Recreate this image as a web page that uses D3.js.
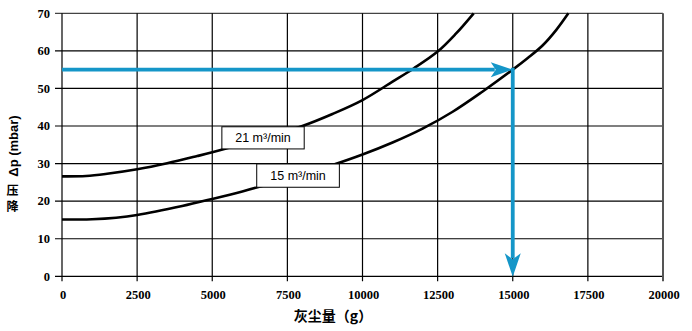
<!DOCTYPE html>
<html><head><meta charset="utf-8">
<script src="https://cdn.jsdelivr.net/npm/d3@7"></script>
<style>body{margin:0;background:#fff}svg{display:block}</style>
</head><body><svg id="c" width="692" height="331"></svg>
<script>
const xTicks = [0, 2500, 5000, 7500, 10000, 12500, 15000, 17500, 20000];
const yTicks = [0, 10, 20, 30, 40, 50, 60, 70];
const dust21 = [0, 800, 1500, 2500, 3500, 4500, 5000, 6000, 7000, 8000, 9000, 10000, 11000, 11700, 12500, 13100, 13700];
const dp21   = [26.6, 26.7, 27.3, 28.5, 30.1, 32.0, 33.0, 35.2, 37.5, 40.0, 43.2, 46.9, 51.8, 55.3, 59.8, 64.5, 70.0];
const dust15 = [0, 1000, 1800, 2500, 4000, 5000, 6000, 7000, 8000, 9000, 10000, 11000, 12000, 13000, 14000, 15000, 15500, 16000, 16450, 16850];
const dp15   = [15.1, 15.2, 15.6, 16.3, 18.7, 20.6, 22.6, 24.8, 27.1, 29.6, 32.4, 35.6, 39.3, 43.8, 49.2, 55.0, 58.1, 61.5, 65.6, 70.0];
const seriesLabels = ["21 m³/min", "15 m³/min"];
const readDust = 15000, readDp = 55;

const svg = d3.select("#c");
const x = d3.scaleLinear().domain([0, 20000]).range([62, 663]);
const y = d3.scaleLinear().domain([0, 70]).range([276.3, 13.3]);

// grid
const g = svg.append("g");
g.selectAll(".hg").data(yTicks).join("line")
  .attr("x1", x(0) - 7).attr("x2", x(20000))
  .attr("y1", d => y(d)).attr("y2", d => y(d))
  .attr("stroke", d => d === 70 ? "#444" : "#000").attr("stroke-width", 1.2);
g.selectAll(".vg").data(xTicks).join("line")
  .attr("x1", d => x(d)).attr("x2", d => x(d))
  .attr("y1", y(70)).attr("y2", y(0) + 5)
  .attr("stroke", d => d === 20000 ? "#555" : "#000")
  .attr("stroke-width", d => d === 20000 ? 2 : 1.2);

// tick labels
svg.selectAll(".yl").data(yTicks).join("text")
  .attr("x", 50).attr("y", d => y(d) + 4.3)
  .attr("text-anchor", "end")
  .attr("font-family", "Liberation Serif").attr("font-weight", "bold").attr("font-size", 12.5)
  .text(d => d);
svg.selectAll(".xl").data(xTicks).join("text")
  .attr("x", d => x(d) + 1).attr("y", 299)
  .attr("text-anchor", "middle")
  .attr("font-family", "Liberation Serif").attr("font-weight", "bold").attr("font-size", 12.5)
  .text(d => d);

// curves
const line = d3.line().x(d => x(d[0])).y(d => y(d[1])).curve(d3.curveCatmullRom.alpha(0.5));
[[dust21, dp21], [dust15, dp15]].forEach(([xs, ys]) => {
  svg.append("path").datum(xs.map((v, i) => [v, ys[i]]))
    .attr("d", line).attr("fill", "none").attr("stroke", "#000").attr("stroke-width", 2.6);
});

// label boxes
const boxes = [
  {x0: 5320, x1: 8060, y0: 39.8, y1: 33.9},
  {x0: 6480, x1: 9230, y0: 29.9, y1: 23.7}
];
boxes.forEach((b, i) => {
  svg.append("rect").attr("x", x(b.x0)).attr("y", y(b.y0))
    .attr("width", x(b.x1) - x(b.x0)).attr("height", y(b.y1) - y(b.y0))
    .attr("fill", "#fff").attr("stroke", "#000").attr("stroke-width", 1);
  svg.append("text").attr("x", (x(b.x0) + x(b.x1)) / 2).attr("y", (y(b.y0) + y(b.y1)) / 2 + 4.5)
    .attr("text-anchor", "middle").attr("font-family", "Liberation Sans").attr("font-size", 12.5)
    .text(seriesLabels[i]);
});

// blue reading arrows
const blue = "#1596c8";
const px = x(readDust), py = y(readDp);
svg.append("line").attr("x1", x(0)).attr("x2", px - 18).attr("y1", py).attr("y2", py)
  .attr("stroke", blue).attr("stroke-width", 3.8);
svg.append("path").attr("d", `M${px},${py} L${px - 22},${py - 7.5} L${px - 17},${py} L${px - 22},${py + 7.5} Z`).attr("fill", blue);
svg.append("line").attr("x1", px).attr("x2", px).attr("y1", py - 1.9).attr("y2", y(0) - 18)
  .attr("stroke", blue).attr("stroke-width", 3.8);
svg.append("path").attr("d", `M${px},${y(0) + 0.5} L${px - 8},${y(0) - 23} L${px},${y(0) - 17} L${px + 8},${y(0) - 23} Z`).attr("fill", blue);

// axis titles
svg.append("text").attr("x", 333).attr("y", 321).attr("text-anchor", "middle")
  .attr("font-family", "Noto Sans CJK SC, Liberation Sans").attr("font-weight", "bold").attr("font-size", 14)
  .text("灰尘量（g）");
svg.append("text").attr("transform", "translate(18,146) rotate(-90)").attr("text-anchor", "middle")
  .attr("font-family", "Liberation Sans").attr("font-weight", "bold").attr("font-size", 13)
  .text("Δp (mbar)");
svg.append("text").attr("x", 12.5).attr("y", 195).attr("text-anchor", "middle")
  .attr("font-family", "Noto Sans CJK SC").attr("font-weight", "bold").attr("font-size", 12)
  .text("压");
svg.append("text").attr("x", 12.5).attr("y", 211).attr("text-anchor", "middle")
  .attr("font-family", "Noto Sans CJK SC").attr("font-weight", "bold").attr("font-size", 12)
  .text("降");
</script></body></html>
